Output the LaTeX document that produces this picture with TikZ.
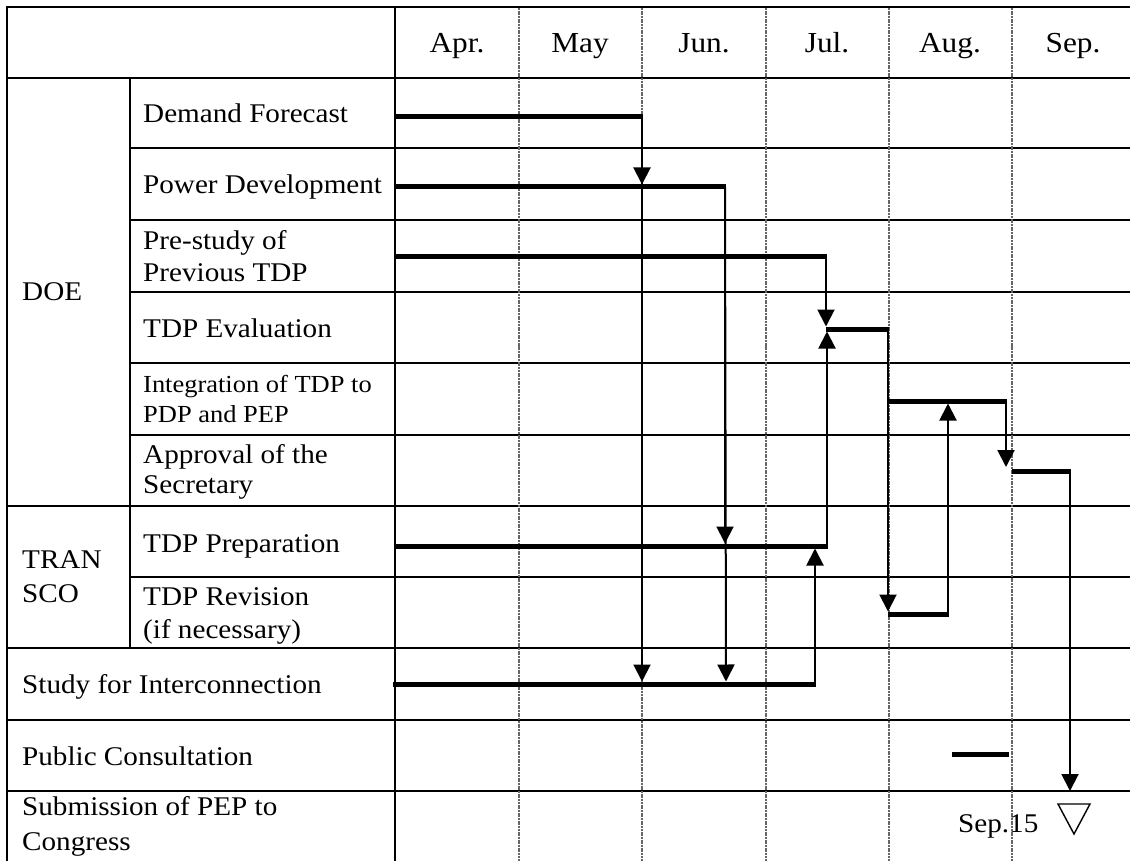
\documentclass[tikz,border=0pt]{standalone}
\usepackage{fontspec}
\setmainfont{Liberation Serif}[FakeStretch=1.08]
\usetikzlibrary{arrows.meta}

% two stacked lines, baseline of the node = baseline of the first line
\newcommand{\TwoLines}[2]{\begin{tabular}[t]{@{}l@{}}#1\\#2\end{tabular}}

\begin{document}
\begin{tikzpicture}[x=1pt,y=-1pt,
  rule/.style={line width=2.4pt,black},
  monthrule/.style={line width=2.6pt,black!60,dash pattern=on 2pt off 0.7pt},
  bar/.style={line width=5pt,line cap=butt},
  link/.style={line width=2pt,-{Triangle[width=17pt,length=17pt]}},
  lbl/.style={anchor=base west,inner sep=0pt,font=\fontsize{27}{32}\selectfont},
  month/.style={anchor=base,inner sep=0pt,font=\fontsize{29}{34}\selectfont}]

\useasboundingbox (0,0) rectangle (1130,861);

% ---- table rules ----
\foreach \y in {7,78,506,648,720,791} \draw[rule] (6,\y) -- (1130,\y);
\foreach \y in {148,220,292,363,435,577} \draw[rule] (130,\y) -- (1130,\y);
\draw[rule] (7,6) -- (7,861);
\draw[rule] (395,6) -- (395,861);
\draw[rule] (130,78) -- (130,648);
\foreach \x in {519,642,766,889,1012} \draw[monthrule] (\x,8) -- (\x,861);

% ---- header ----
\node[month] (apr) at (457,53) {Apr.};
\node[month] (may) at (580,53) {May};
\node[month] (jun) at (704,53) {Jun.};
\node[month] (jul) at (827,53) {Jul.};
\node[month] (aug) at (950,53) {Aug.};
\node[month] (sep) at (1073,53) {Sep.};

% ---- row labels ----
\node[lbl] (doe) at (22,300) {DOE};
\node[lbl] (tDF) at (143,123) {Demand Forecast};
\node[lbl] (tPD) at (143,194) {Power Development};
\node[lbl] (tPS) at (143,250) {\TwoLines{Pre-study of}{Previous TDP}};
\node[lbl] (tEV) at (143,337) {TDP Evaluation};
\node[lbl,font=\fontsize{24.5}{30}\selectfont] (tIN) at (143,392) {\TwoLines{Integration of TDP to}{PDP and PEP}};
\node[lbl,font=\fontsize{27}{30}\selectfont] (tAP) at (143,463) {\TwoLines{Approval of the}{Secretary}};
\node[lbl,font=\fontsize{27}{34}\selectfont] (transco) at (22,568) {\TwoLines{TRAN}{SCO}};
\node[lbl] (tPR) at (143,552) {TDP Preparation};
\node[lbl,font=\fontsize{27}{33}\selectfont] (tRV) at (143,605) {\TwoLines{TDP Revision}{(if necessary)}};
\node[lbl] (tSI) at (22,693) {Study for Interconnection};
\node[lbl] (tPC) at (22,765) {Public Consultation};
\node[lbl,font=\fontsize{27}{35}\selectfont] (tSB) at (22,815) {\TwoLines{Submission of PEP to}{Congress}};
\node[lbl] (sepday) at (958,832) {Sep.15};

% ---- bar end points ----
\coordinate (dfS) at (395,117);  \coordinate (dfE) at (643,117);
\coordinate (pdS) at (395,187);  \coordinate (pdE) at (726,187);
\coordinate (psS) at (395,257);  \coordinate (psE) at (827,257);
\coordinate (evS) at (826,329);  \coordinate (evE) at (889,329);
\coordinate (inS) at (888,401);  \coordinate (inE) at (1007,401);
\coordinate (apS) at (1012,471); \coordinate (apE) at (1071,471);
\coordinate (prS) at (395,546);  \coordinate (prE) at (828,546);
\coordinate (rvS) at (888,614);  \coordinate (rvE) at (949,614);
\coordinate (siS) at (393,684);  \coordinate (siE) at (816,684);
\coordinate (pcS) at (952,754);  \coordinate (pcE) at (1009,754);

% ---- arrow targets on the bars ----
\coordinate (toPD)  at (642,184.5);
\coordinate (toSI1) at (642,681.5);
\coordinate (toPR)  at (725,543.5);
\coordinate (toSI2) at (726,681.5);
\coordinate (toEV1) at (826,326.5);
\coordinate (toEV2) at (827,331.5);
\coordinate (toPR2) at (815,548.5);
\coordinate (toRV)  at (888,611.5);
\coordinate (toIN)  at (948,403.5);
\coordinate (toAP)  at (1006,467);
\coordinate (toSB)  at (1070,791);

% ---- links ----
\draw[link] ([xshift=-1pt]dfE) -- (toPD);
\draw[link] ([xshift=-1pt]dfE) -- (toSI1);
\draw[link] ([xshift=-1pt]pdE) -- (toPR);
\draw[link] ([xshift=-1pt]pdE) -- (toSI2);
\draw[link] ([xshift=-1pt]psE) -- (toEV1);
\draw[link] ([xshift=-1pt]prE) -- (toEV2);
\draw[link] ([xshift=-1pt]siE) -- (toPR2);
\draw[link] ([xshift=-1pt]evE) -- (toRV);
\draw[link] ([xshift=-1pt]rvE) -- (toIN);
\draw[link] ([xshift=-1pt]inE) -- (toAP);
\draw[link] ([xshift=-1pt]apE) -- (toSB);

% ---- bars ----
\foreach \b in {df,pd,ps,ev,in,ap,pr,rv,si,pc} \draw[bar] (\b S) -- (\b E);

% ---- submission mark ----
\draw[line width=1.4pt,line join=miter] (1058,804) -- (1090,804) -- (1074,834) -- cycle;
\end{tikzpicture}
\end{document}
